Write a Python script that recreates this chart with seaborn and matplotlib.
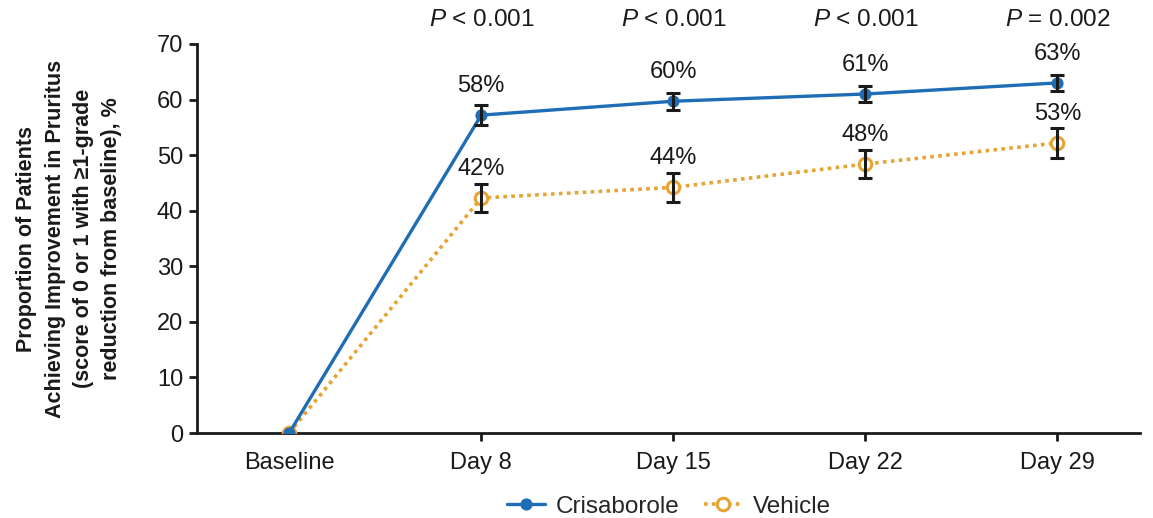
import matplotlib
matplotlib.use("Agg")
import matplotlib.pyplot as plt
import seaborn as sns
import pandas as pd
import numpy as np

visits = ["Baseline", "Day 8", "Day 15", "Day 22", "Day 29"]
crisa_vals = [0.0, 57.2, 59.7, 61.0, 63.0]
crisa_err = [0.0, 1.8, 1.5, 1.5, 1.5]
crisa_labels = ["", "58%", "60%", "61%", "63%"]
vehicle_vals = [0.0, 42.3, 44.2, 48.4, 52.2]
vehicle_err = [0.0, 2.5, 2.6, 2.5, 2.7]
vehicle_labels = ["", "42%", "44%", "48%", "53%"]
p_labels = ["", "< 0.001", "< 0.001", "< 0.001", "= 0.002"]

blue = "#1f6db4"
orange = "#e6a532"

sns.set_style("ticks")
plt.rcParams["font.family"] = ["Liberation Sans", "DejaVu Sans"]
plt.rcParams["mathtext.fontset"] = "custom"
plt.rcParams["mathtext.it"] = "Liberation Sans:italic"
plt.rcParams["mathtext.rm"] = "Liberation Sans"

fig = plt.figure(figsize=(11.53, 5.18), dpi=100)
ax = fig.add_axes([197/1153, 1-433/518, (1140-197)/1153, (433-44)/518])

x = np.arange(len(visits))
df = pd.DataFrame({
    "x": np.concatenate([x, x]),
    "value": crisa_vals + vehicle_vals,
    "group": ["Crisaborole"]*len(visits) + ["Vehicle"]*len(visits),
})

sns.lineplot(data=df[df.group == "Vehicle"], x="x", y="value", ax=ax, color=orange,
             linestyle=(0, (1.0, 1.2)), linewidth=2.6, marker="o", markersize=9,
             markerfacecolor="white", markeredgecolor=orange, markeredgewidth=2.2,
             zorder=3, label="Vehicle")
sns.lineplot(data=df[df.group == "Crisaborole"], x="x", y="value", ax=ax, color=blue,
             linewidth=2.4, marker="o", markersize=8, markeredgecolor=blue,
             zorder=4, label="Crisaborole")

for vals, errs in [(crisa_vals, crisa_err), (vehicle_vals, vehicle_err)]:
    ax.errorbar(x[1:], vals[1:], yerr=errs[1:], fmt="none", ecolor="#1a1a1a",
                elinewidth=2.2, capsize=5, capthick=2.2, zorder=5)

for i in range(1, len(visits)):
    ax.annotate(crisa_labels[i], (x[i], crisa_vals[i]), xytext=(0, 21),
                textcoords="offset points", ha="center", va="center",
                fontsize=17, color="#1a1a1a")
    ax.annotate(vehicle_labels[i], (x[i], vehicle_vals[i]), xytext=(0, 21),
                textcoords="offset points", ha="center", va="center",
                fontsize=17, color="#1a1a1a")
    ax.text(x[i], 74.4, r"$\it{P}$ " + p_labels[i], ha="center", va="center",
            fontsize=17.5, color="#1a1a1a", clip_on=False)

ax.set_xlim(-0.48, 4.43)
ax.set_ylim(0, 70)
ax.set_yticks(range(0, 71, 10))
ax.set_xticks(x)
ax.set_xticklabels(visits)
ax.xaxis.get_major_ticks()[0].tick1line.set_visible(False)
ax.tick_params(axis="both", labelsize=17, width=2, length=6, color="#1a1a1a",
               labelcolor="#1a1a1a")
ax.tick_params(axis="x", pad=8)
ax.tick_params(axis="y", pad=4)
ax.set_xlabel("")
ax.set_ylabel("Proportion of Patients\nAchieving Improvement in Pruritus\n"
              "(score of 0 or 1 with ≥1-grade\nreduction from baseline), %",
              fontsize=15.5, fontweight="bold", color="#1a1a1a", labelpad=25,
              linespacing=1.45)
for s in ["top", "right"]:
    ax.spines[s].set_visible(False)
for s in ["left", "bottom"]:
    ax.spines[s].set_linewidth(2)
    ax.spines[s].set_color("#1a1a1a")

handles, labels = ax.get_legend_handles_labels()
order = [labels.index("Crisaborole"), labels.index("Vehicle")]
ax.legend([handles[i] for i in order], [labels[i] for i in order],
          loc="center", bbox_to_anchor=(0.5005, -0.19), ncol=2, frameon=False,
          fontsize=17.5, handlelength=1.55, columnspacing=1.0, handletextpad=0.45)

fig.savefig("out.png", dpi=100)
